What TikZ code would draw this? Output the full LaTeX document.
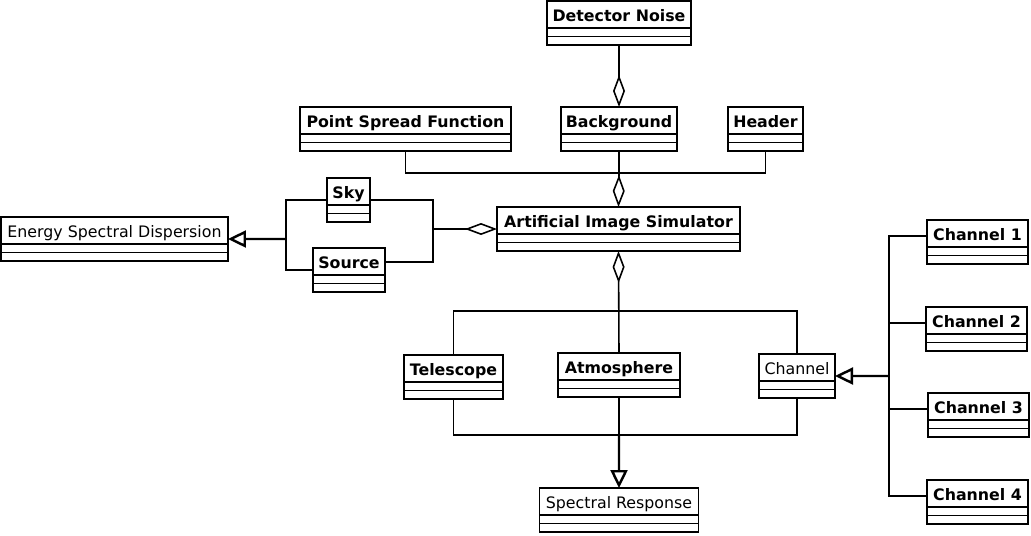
\documentclass[tikz,border=0pt]{standalone}
\usepackage{fontspec}
\setmainfont{DejaVu Sans}
\usetikzlibrary{arrows.meta,calc}

\begin{document}
\begin{tikzpicture}[x=0.02cm, y=-0.02cm,
    umlclass/.style={draw, line width=1.1pt, anchor=north west, inner xsep=0.06cm, inner ysep=0pt, outer sep=0pt,
        font=\fontsize{9}{10}\selectfont\bfseries,
        path picture={\draw[line width=1.1pt]
            ($(path picture bounding box.south west)+(0,-17)$) -- ($(path picture bounding box.south east)+(0,-17)$)
            ($(path picture bounding box.south west)+(0,-8.5)$) -- ($(path picture bounding box.south east)+(0,-8.5)$);}},
    regular/.style={font=\fontsize{9}{10}\selectfont},
    boxw/.style={minimum width=#1*0.02cm},
    conn/.style={line width=0.9pt},
    agg/.style={conn, -{Diamond[open, length=0.64cm, width=0.24cm]}},
    gen/.style={line width=1.4pt, -{Triangle[open, length=0.36cm, width=0.34cm]}}]
    \useasboundingbox (0,0) rectangle (1031,535);
    \def\ttl#1{\rule[-0.48cm]{0pt}{0.88cm}#1}

    % Classes, top row
    \node[umlclass, boxw=144] (detnoise) at (547,1) {\ttl{Detector Noise}};
    \node[umlclass, boxw=211] (psf) at (300,107) {\ttl{Point Spread Function}};
    \node[umlclass, boxw=116] (background) at (561,107) {\ttl{Background}};
    \node[umlclass, boxw=75] (header) at (728,107) {\ttl{Header}};

    % Simulator and its sources
    \node[umlclass, boxw=243] (ais) at (497,207) {\ttl{Artificial Image Simulator}};
    \node[umlclass, boxw=43] (sky) at (327,178) {\ttl{Sky}};
    \node[umlclass, boxw=72] (source) at (313,248) {\ttl{Source}};
    \node[umlclass, regular, boxw=227] (esd) at (1,217) {\ttl{Energy Spectral Dispersion}};

    % Lower row
    \node[umlclass, boxw=99] (telescope) at (404,355) {\ttl{Telescope}};
    \node[umlclass, boxw=122] (atmosphere) at (558,353) {\ttl{Atmosphere}};
    \node[umlclass, regular, boxw=76] (channel) at (759,354) {\ttl{Channel}};
    \node[umlclass, regular, boxw=159] (specresp) at (539.5,488) {\ttl{Spectral Response}};

    % The four channels
    \node[umlclass, boxw=101] (ch1) at (927,220) {\ttl{Channel 1}};
    \node[umlclass, boxw=101] (ch2) at (926,307) {\ttl{Channel 2}};
    \node[umlclass, boxw=101] (ch3) at (928,393) {\ttl{Channel 3}};
    \node[umlclass, boxw=101] (ch4) at (927,480) {\ttl{Channel 4}};

    % Junction points
    \coordinate (topbus) at (619,173);
    \coordinate (midbus) at (619,311);
    \coordinate (lowbus) at (619,435);
    \coordinate (skyagg) at (433,229);
    \coordinate (skygen) at (286,239);
    \coordinate (chbus) at (889,376);

    % Aggregations into the simulator
    \draw[agg] (detnoise.south) -- (background.north);
    \draw[conn] (psf.south) |- (topbus) -| (header.south);
    \draw[conn] (background.south) -- (topbus);
    \draw[agg] (topbus) -- (ais.north);
    \draw[conn] (telescope.north) |- (midbus) -| (channel.north);
    \draw[agg] (atmosphere.north) -- (ais.south);
    \draw[conn] (sky.east) -| (skyagg);
    \draw[conn] ($(source.north east)+(0,14)$) -| (skyagg);
    \draw[agg] (skyagg) -- (ais.west);

    % Generalisations
    \draw[conn] (sky.west) -| (skygen);
    \draw[conn] (source.west) -| (skygen);
    \draw[gen] (skygen) -- (esd.east);
    \draw[conn] (telescope.south) |- (lowbus) -| (channel.south);
    \draw[conn] (atmosphere.south) -- (lowbus);
    \draw[gen] (lowbus) -- (specresp.north);
    \foreach \c in {ch1,ch2,ch3,ch4}
        \draw[conn] ($(\c.north west)+(0,16)$) -| (chbus);
    \draw[gen] (chbus) -- (channel.east);
\end{tikzpicture}
\end{document}
